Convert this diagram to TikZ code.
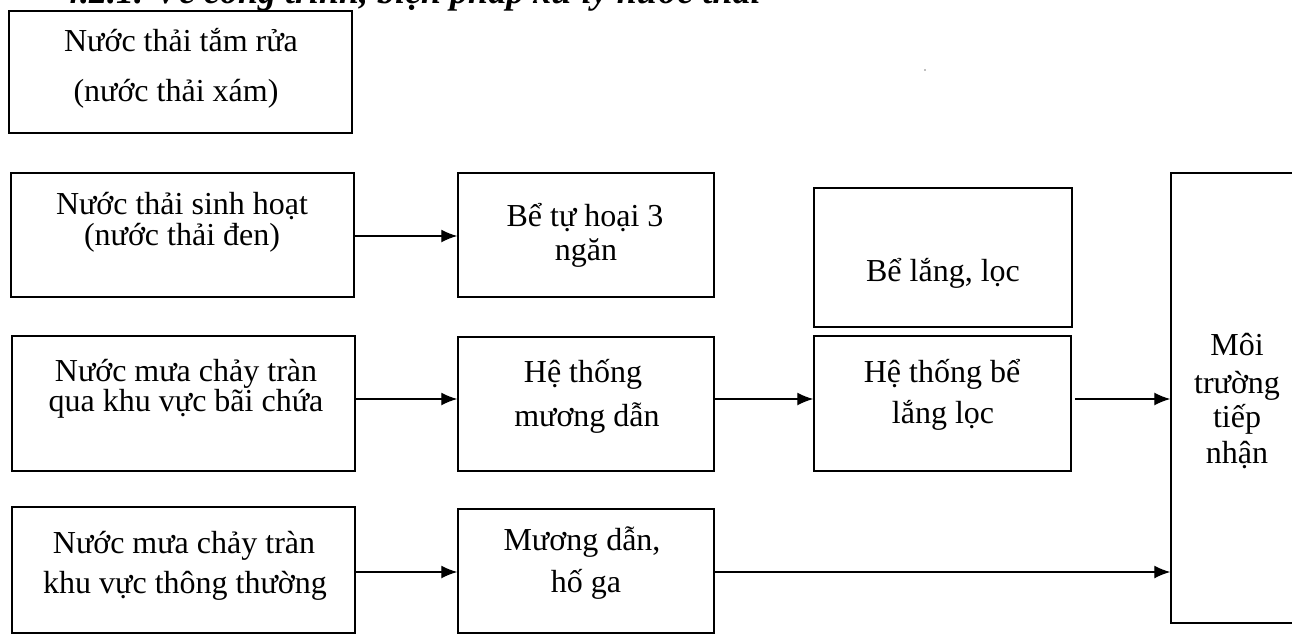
\documentclass[tikz,border=0pt]{standalone}
\usepackage{fontspec}
\setmainfont{Liberation Serif}
\usetikzlibrary{arrows.meta}
\begin{document}
\begin{tikzpicture}[x=1pt,y=-1pt,
  box/.style={draw, line width=1.5pt, inner sep=0pt, rectangle},
  txt/.style={anchor=base, inner sep=0pt, font=\fontsize{32}{31}\selectfont},
  arr/.style={line width=1.4pt, -{Latex[length=16pt,width=13pt]}}]
\useasboundingbox (0,0) rectangle (1292,634);
\clip (0,0) rectangle (1292,634);
% heading (cut off at the top)
\node[anchor=base west, inner sep=0pt, font=\fontsize{36}{36}\selectfont\bfseries\itshape] (head) at (62,4) {4.2.1. Về công trình, biện pháp xử lý nước thải};
% boxes
\node[box, minimum width=343pt, minimum height=122pt] (A1) at (180.5,72) {};
\node[box, minimum width=343pt, minimum height=124pt] (A2) at (182.5,235) {};
\node[box, minimum width=256pt, minimum height=124pt] (B2) at (586,235) {};
\node[box, minimum width=258pt, minimum height=139pt] (C2) at (943,257.5) {};
\node[box, minimum width=343pt, minimum height=135pt] (A3) at (183.5,403.5) {};
\node[box, minimum width=256pt, minimum height=134pt] (B3) at (586,404) {};
\node[box, minimum width=257pt, minimum height=135pt] (C3) at (942.5,403.5) {};
\node[box, minimum width=343pt, minimum height=126pt] (A4) at (183.5,570) {};
\node[box, minimum width=256pt, minimum height=124pt] (B4) at (586,571) {};
\node[box, minimum width=132pt, minimum height=450pt] (M) at (1237,398) {};
% texts
\node[txt] (A1a) at (181,52) {Nước thải tắm rửa};
\node[txt] (A1b) at (176,101) {(nước thải xám)};
\node[txt] (A2a) at (182,214) {Nước thải sinh hoạt};
\node[txt] (A2b) at (182,245) {(nước thải đen)};
\node[txt] (B2a) at (585,226) {Bể tự hoại 3};
\node[txt] (B2b) at (586,260) {ngăn};
\node[txt] (C2a) at (943,281) {Bể lắng, lọc};
\node[txt] (A3a) at (186,381) {Nước mưa chảy tràn};
\node[txt] (A3b) at (186,411) {qua khu vực bãi chứa};
\node[txt] (B3a) at (583,382) {Hệ thống};
\node[txt] (B3b) at (587,426) {mương dẫn};
\node[txt] (C3a) at (942,382) {Hệ thống bể};
\node[txt] (C3b) at (943,423) {lắng lọc};
\node[txt] (A4a) at (184,553) {Nước mưa chảy tràn};
\node[txt] (A4b) at (185,593) {khu vực thông thường};
\node[txt] (B4a) at (582,550) {Mương dẫn,};
\node[txt] (B4b) at (586,592) {hố ga};
\node[txt] (Ma) at (1237,355) {Môi};
\node[txt] (Mb) at (1237,393) {trường};
\node[txt] (Mc) at (1237,427) {tiếp};
\node[txt] (Md) at (1237,463) {nhận};
% stray speck
\fill[gray] (925,70) circle (0.8pt);
% arrows
\draw[arr] (A2.east |- 0,236) -- (B2.west |- 0,236);
\draw[arr] (A3.east |- 0,399) -- (B3.west |- 0,399);
\draw[arr] (B3.east |- 0,399) -- (C3.west |- 0,399);
\draw[arr] ([xshift=3pt]C3.east |- 0,399) -- (M.west |- 0,399);
\draw[arr] (A4.east |- 0,572) -- (B4.west |- 0,572);
\draw[arr] (B4.east |- 0,572) -- (M.west |- 0,572);
\end{tikzpicture}
\end{document}
